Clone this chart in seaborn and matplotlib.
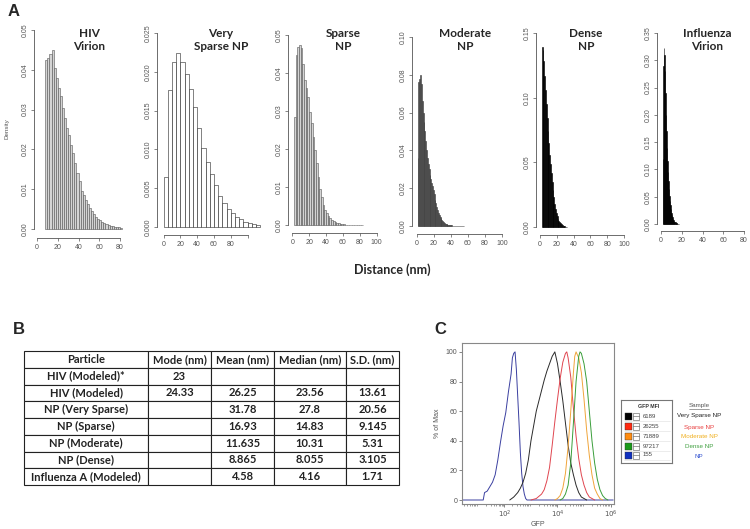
import numpy as np
import pandas as pd
import matplotlib.pyplot as plt
import seaborn as sns
from matplotlib.patches import Rectangle
from matplotlib.lines import Line2D
from matplotlib.ticker import FormatStrFormatter

# ---------------- data: panel A (density per bin) ----------------
hiv_start, hiv_width = 8, 2
hiv_density = [0.0425, 0.0430, 0.0440, 0.0450, 0.0405, 0.0380, 0.0355, 0.0335, 0.0305, 0.0280,
               0.0255, 0.0235, 0.0210, 0.0190, 0.0165, 0.0140, 0.0120, 0.0095, 0.0085, 0.0072,
               0.0062, 0.0052, 0.0045, 0.0037, 0.0030, 0.0026, 0.0022, 0.0018, 0.0015, 0.0012,
               0.0010, 0.0008, 0.0007, 0.0006, 0.0005, 0.0004, 0.0003]

vsparse_start, vsparse_width = 0, 5
vsparse_density = [0.0065, 0.0176, 0.0213, 0.0224, 0.0212, 0.0197, 0.0178, 0.0155, 0.0127, 0.0102,
                   0.0084, 0.0068, 0.0054, 0.0040, 0.0031, 0.0023, 0.0018, 0.0013, 0.0010, 0.0007,
                   0.0005, 0.0004, 0.0002]

sparse_start, sparse_width = 2, 2
sparse_density = [0.0285, 0.0447, 0.0469, 0.0474, 0.0465, 0.0425, 0.0382, 0.0360, 0.0338, 0.0298,
                  0.0268, 0.0232, 0.0197, 0.0162, 0.0127, 0.0096, 0.0075, 0.0053, 0.0039, 0.0031,
                  0.0024, 0.0018, 0.0013, 0.0010, 0.0007, 0.0005, 0.0004, 0.0003, 0.0002, 0.0002,
                  0.0001, 0.0, 0.0, 0.0, 0.0, 0.0, 0.0, 0.0, 0.0, 0.0, 0.0]

moderate_start, moderate_width = 1, 1
moderate_density = [0.036, 0.076, 0.078, 0.080, 0.075, 0.066, 0.060, 0.055, 0.050, 0.045,
                    0.040, 0.036, 0.033, 0.030, 0.027, 0.025, 0.023, 0.021, 0.019, 0.017,
                    0.014, 0.012, 0.010, 0.0085, 0.007, 0.006, 0.005, 0.004, 0.0032, 0.0025,
                    0.002, 0.0016, 0.0013, 0.001, 0.0008, 0.0006, 0.0005, 0.0004, 0.0003, 0.0003,
                    0.0002, 0.0002, 0.0001, 0.0001, 0.0, 0.0, 0.0, 0.0, 0.0, 0.0,
                    0.0, 0.0, 0.0, 0.0]

dense_start, dense_width = 2, 1
dense_density = [0.139, 0.137, 0.128, 0.117, 0.106, 0.095, 0.084, 0.074, 0.065, 0.056,
                 0.049, 0.042, 0.035, 0.029, 0.023, 0.018, 0.014, 0.011, 0.0085, 0.0065,
                 0.005, 0.0038, 0.0028, 0.002, 0.0015, 0.001, 0.0007, 0.0005, 0.0003, 0.0002]

flu_start, flu_width = 1.5, 0.5
flu_density = [0.12, 0.29, 0.322, 0.31, 0.28, 0.24, 0.20, 0.17, 0.14, 0.115,
               0.095, 0.078, 0.064, 0.052, 0.042, 0.034, 0.027, 0.021, 0.017, 0.013,
               0.010, 0.008, 0.006, 0.0045, 0.0035, 0.0025, 0.0018, 0.0012, 0.0008, 0.0005,
               0.0003]

# ---------------- data: panel B table ----------------
table_cols = ["Particle", "Mode (nm)", "Mean (nm)", "Median (nm)", "S.D. (nm)"]
particles = ["HIV (Modeled)*", "HIV (Modeled)", "NP (Very Sparse)", "NP (Sparse)",
             "NP (Moderate)", "NP (Dense)", "Influenza A (Modeled)"]
mode_nm = ["23", "24.33", "", "", "", "", ""]
mean_nm = ["", "26.25", "31.78", "16.93", "11.635", "8.865", "4.58"]
median_nm = ["", "23.56", "27.8", "14.83", "10.31", "8.055", "4.16"]
sd_nm = ["", "13.61", "20.56", "9.145", "5.31", "3.105", "1.71"]

# ---------------- data: panel C flow histograms (log10 GFP, % of max) ----------------
np_log = [0.4, 1.2, 1.25, 1.35, 1.45, 1.55, 1.65, 1.75, 1.85, 1.95, 2.05, 2.15, 2.25, 2.3, 2.35,
          2.4, 2.45, 2.5, 2.55, 2.6, 2.65, 2.7, 2.75, 2.8, 2.85, 6.1]
np_pct = [0, 0, 5, 6, 9, 12, 17, 27, 39, 50, 59, 73, 85, 96, 99,
          100, 88, 70, 52, 32, 18, 9, 4, 1, 0, 0]
vsparse_log = [2.2, 2.35, 2.5, 2.6, 2.7, 2.8, 2.9, 3.0, 3.1, 3.2, 3.3, 3.4, 3.5, 3.6, 3.7,
               3.8, 3.9, 4.0, 4.1, 4.2, 4.3, 4.4, 4.5, 4.6, 4.7, 4.8, 4.9, 5.0, 5.1]
vsparse_pct = [0, 2, 5, 8, 12, 18, 27, 40, 50, 60, 67, 74, 81, 87, 92,
               97, 100, 92, 80, 67, 52, 37, 25, 17, 10, 5, 2, 1, 0]
sparse_log = [3.0, 3.2, 3.4, 3.5, 3.6, 3.7, 3.8, 3.9, 4.0, 4.1, 4.2, 4.3, 4.35, 4.4, 4.5,
              4.6, 4.7, 4.8, 4.9, 5.0, 5.1, 5.2, 5.3, 5.4]
sparse_pct = [0, 1, 4, 7, 13, 22, 37, 53, 68, 82, 93, 99, 100, 96, 83,
              62, 43, 28, 17, 10, 5, 2, 1, 0]
moderate_log = [3.9, 4.0, 4.1, 4.2, 4.3, 4.4, 4.5, 4.6, 4.65, 4.7, 4.8, 4.9, 5.0, 5.1, 5.2,
                5.3, 5.4, 5.5, 5.6, 5.7]
moderate_pct = [0, 1, 3, 8, 18, 36, 60, 86, 97, 100, 96, 86, 68, 47, 30,
                17, 8, 4, 1, 0]
dense_log = [4.1, 4.2, 4.3, 4.4, 4.5, 4.6, 4.7, 4.8, 4.85, 4.9, 5.0, 5.1, 5.2, 5.3, 5.4,
             5.5, 5.6, 5.7, 5.8, 5.9]
dense_pct = [0, 1, 4, 10, 25, 52, 80, 97, 100, 99, 92, 80, 60, 40, 25,
             14, 7, 3, 1, 0]

samples = ["Very Sparse NP", "Sparse NP", "Moderate NP", "Dense NP", "NP"]
mfi = ["6189", "26255", "71889", "97217", "155"]

# ---------------- figure ----------------
sns.set_style("ticks")
plt.rcParams["font.family"] = ["Liberation Sans", "DejaVu Sans"]

W, H = 750, 529
fig = plt.figure(figsize=(W / 100, H / 100), dpi=100)


def rect(l, t, r, b):
    return [l / W, 1 - b / H, (r - l) / W, (b - t) / H]


def ptext(x, y, s, **kw):
    fig.text(x / W, 1 - y / H, s, **kw)


grey = "#555555"

# panel A: (data, start, width, face, edge, px geometry, y ticks, x ticks, fmt, title, title x)
hists = [
    (hiv_density, hiv_start, hiv_width, "#d4d4d4", "#555555", 34, 37, 1.0375, 229, 3980, 238, 25, 127,
     np.arange(0, 0.051, 0.01), [0, 20, 40, 60, 80], "%.2f", "HIV\nVirion", 89),
    (vsparse_density, vsparse_start, vsparse_width, "white", "#222222", 157, 163.5, 0.84, 227, 7760, 235, 28, 262,
     np.arange(0, 0.0251, 0.005), [0, 20, 40, 60, 80, 100], "%.3f", "Very\nSparse NP", 221),
    (sparse_density, sparse_start, sparse_width, "#d4d4d4", "#555555", 288, 292.3, 0.844, 225, 3800, 233, 30, 380,
     np.arange(0, 0.051, 0.01), [0, 20, 40, 60, 80, 100], "%.2f", "Sparse\nNP", 343),
    (moderate_density, moderate_start, moderate_width, "#707070", "#333333", 412, 416.7, 0.854, 226, 1890, 234, 32, 505,
     np.arange(0, 0.101, 0.02), [0, 20, 40, 60, 80, 100], "%.2f", "Moderate\nNP", 465),
    (dense_density, dense_start, dense_width, "black", "black", 536, 540, 0.84, 227, 1293, 235, 28, 627,
     np.arange(0, 0.151, 0.05), [0, 20, 40, 60, 80, 100], "%.2f", "Dense\nNP", 586),
    (flu_density, flu_start, flu_width, "black", "black", 657, 661, 1.0375, 224, 545.7, 231, 28, 748,
     np.arange(0, 0.351, 0.05), [0, 20, 40, 60, 80], "%.2f", "Influenza\nVirion", 707),
]

for (dens, start, width, face, edge, L, X0, sx, Y0, sy, B, T, R,
     yticks, xticks, fmt, title, tx) in hists:
    ax = fig.add_axes(rect(L, T, R, B))
    n = len(dens)
    edges = start + width * np.arange(n + 1)
    hist_df = pd.DataFrame({"dist": edges[:-1] + width / 2, "density": dens})
    sns.histplot(data=hist_df, x="dist", weights="density", bins=list(edges), stat="count", ax=ax,
                 color=face, edgecolor=edge, linewidth=0.4, alpha=1)
    ax.set_xlim((L - X0) / sx, (R - X0) / sx)
    ax.set_ylim(-(B - Y0) / sy, (Y0 - T) / sy)
    ax.set_xlabel("")
    ax.set_ylabel("")
    ax.set_yticks(yticks)
    ax.yaxis.set_major_formatter(FormatStrFormatter(fmt))
    ax.set_xticks(xticks)
    labels = [str(v) for v in xticks]
    if title.startswith("Very"):
        labels[-1] = ""
    ax.set_xticklabels(labels)
    for s in ["top", "right"]:
        ax.spines[s].set_visible(False)
    for s in ["left", "bottom"]:
        ax.spines[s].set_color(grey)
        ax.spines[s].set_linewidth(0.6)
    ax.spines["left"].set_bounds(0, yticks[-1])
    ax.spines["bottom"].set_bounds(0, xticks[-1])
    ax.tick_params(labelsize=5, colors=grey, length=2.5, width=0.5, pad=1.5)
    ax.tick_params(axis="y", labelrotation=90)
    for lab in ax.get_yticklabels():
        lab.set_va("center")
    ax.patch.set_alpha(0)
    ptext(tx, 40, title, ha="center", va="center", fontsize=8.5, fontweight="bold",
          family=["Lato", "DejaVu Sans"], linespacing=1.15)

ptext(7, 129, "Density", rotation=90, ha="center", va="center", fontsize=4.5, color=grey)
ptext(392, 270, "Distance (nm)", ha="center", va="center", fontsize=9, fontweight="bold",
      family=["Lato", "DejaVu Sans"])

for letter, x, y in [("A", 14, 12), ("B", 19, 329), ("C", 440, 329)]:
    ptext(x, y, letter, ha="center", va="center", fontsize=12, fontweight="bold")

# panel B: table
tax = fig.add_axes(rect(24, 351, 399, 485))
tax.axis("off")
rows = [list(r) for r in zip(particles, mode_nm, mean_nm, median_nm, sd_nm)]
widths = np.array([124, 63, 63, 72, 53], dtype=float)
tbl = tax.table(cellText=rows, colLabels=table_cols, cellLoc="center",
                colWidths=list(widths / widths.sum()), bbox=[0, 0, 1, 1])
tbl.auto_set_font_size(False)
for (r, c), cell in tbl.get_celld().items():
    cell.set_linewidth(0.8)
    cell.set_edgecolor("#222222")
    t = cell.get_text()
    t.set_fontsize(8)
    t.set_fontweight("bold")
    t.set_fontfamily(["Lato", "DejaVu Sans"])
    t.set_color("#222222")

# panel C: flow histograms
cax = fig.add_axes(rect(462, 343, 614, 504))
curves = [
    ("NP", np_log, np_pct),
    ("Very Sparse NP", vsparse_log, vsparse_pct),
    ("Sparse NP", sparse_log, sparse_pct),
    ("Moderate NP", moderate_log, moderate_pct),
    ("Dense NP", dense_log, dense_pct),
]
df = pd.concat([pd.DataFrame({"gfp": 10 ** np.array(lg), "pct": pc, "sample": name})
                for name, lg, pc in curves], ignore_index=True)
line_colors = {"NP": "#3a3fa0", "Very Sparse NP": "#2a2a2a", "Sparse NP": "#e0454f",
               "Moderate NP": "#f0a53a", "Dense NP": "#3a9e3a"}
sns.lineplot(data=df, x="gfp", y="pct", hue="sample", palette=line_colors, estimator=None,
             sort=False, legend=False, linewidth=0.7, ax=cax)
cax.set_xscale("log")
cax.set_xlim(10 ** 0.4, 10 ** 6.13)
cax.set_ylim(-2.7, 106)
cax.set_yticks([0, 20, 40, 60, 80, 100])
cax.set_xticks([1e2, 1e4, 1e6])
cax.set_xticklabels(["$10^2$", "$10^4$", "$10^6$"])
cax.set_xlabel("GFP", fontsize=5, color=grey, labelpad=0.5)
cax.set_ylabel("% of Max", fontsize=5, color=grey, labelpad=3)
cax.tick_params(labelsize=5, colors=grey, length=2.5, width=0.5, pad=1)
cax.tick_params(which="minor", length=1.5, width=0.4, colors=grey)
for s in cax.spines.values():
    s.set_color("#888888")
    s.set_linewidth(0.8)

# legend box of panel C
lax = fig.add_axes(rect(621, 400, 672, 463))
lax.set_xlim(0, 51)
lax.set_ylim(63, 0)
lax.set_xticks([])
lax.set_yticks([])
for s in lax.spines.values():
    s.set_color("#777777")
    s.set_linewidth(0.8)
swatch = ["black", "#ff2a10", "#ff8c10", "#1a9a1a", "#1030c0"]
text_colors = ["#222222", "#e84040", "#f0b020", "#40a040", "#3050d0"]
lax.text(28, 6, "GFP MFI", ha="center", va="center", fontsize=3.8, fontweight="bold", color="#333333")
row_y = [16, 26, 36, 46, 55]
for yy, col, val in zip(row_y, swatch, mfi):
    lax.add_patch(Rectangle((4, yy - 3.5), 7, 7, facecolor=col, edgecolor="#333333", linewidth=0.3))
    lax.add_patch(Rectangle((12, yy - 3.5), 6, 7, facecolor="white", edgecolor="#555555", linewidth=0.4))
    lax.plot([12, 18], [yy, yy], color="#555555", linewidth=0.4)
    lax.plot([3, 49], [yy + 5, yy + 5], color="#dddddd", linewidth=0.4)
    lax.text(22, yy, val, ha="left", va="center", fontsize=4.3, color="#444444")

ptext(699, 405, "Sample", ha="center", va="center", fontsize=4.5, color=grey)
fig.add_artist(Line2D([689 / W, 709 / W], [1 - 409 / H, 1 - 409 / H], color=grey, linewidth=0.4))
for yy, name, col in zip([416, 427, 437, 447, 456], samples, text_colors):
    ptext(699, yy, name, ha="center", va="center", fontsize=4.5, color=col)

fig.savefig("out.png", dpi=100)
